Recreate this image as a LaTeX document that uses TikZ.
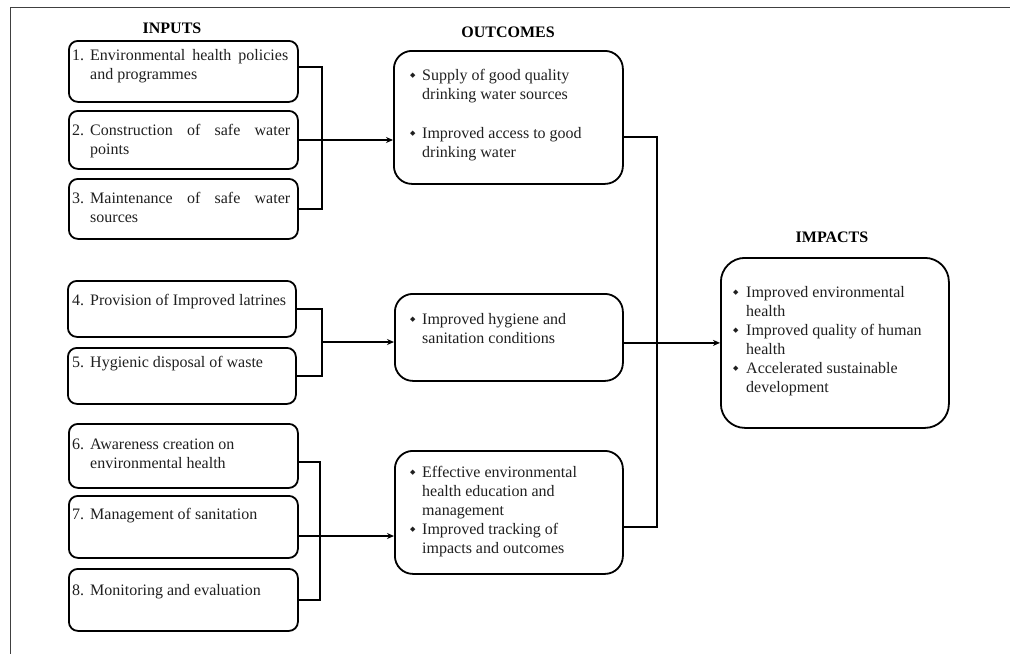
\documentclass[tikz,border=0pt]{standalone}
\usepackage{fontspec}
\setmainfont{Liberation Serif}
\newfontfamily\symf{DejaVu Sans}
\usetikzlibrary{arrows.meta}
\newcommand{\dmd}{\raisebox{2.5pt}{\symf\fontsize{7}{7}\selectfont ◆}}
\newcommand{\bul}{\makebox[12pt][l]{\dmd}}
\newcommand{\bulw}{\makebox[13pt][l]{\dmd}}
\newcommand{\numb}[1]{\makebox[18pt][l]{#1}}
\begin{document}
\begin{tikzpicture}[x=1pt,y=-1pt,
  ibox/.style={draw, line width=1.8pt, rounded corners=9pt, inner sep=0pt, anchor=north west},
  obox/.style={draw, line width=1.8pt, rounded corners=18pt, inner sep=0pt, anchor=north west},
  txt/.style={anchor=base west, inner sep=0pt, text=black!88, font=\fontsize{16}{19}\selectfont},
  head/.style={anchor=base, inner sep=0pt, font=\fontsize{16}{19}\selectfont\bfseries},
  conn/.style={draw, line width=1.8pt},
  arr/.style={conn, -{Stealth[length=7pt,width=6pt]}}]
\useasboundingbox (0,0) rectangle (1010,654);
% frame
\draw[line width=1pt, black!75] (1010,7) -- (10,7) -- (10,654);
% headings
\node[head] (hin) at (172,33) {INPUTS};
\node[head] (hout) at (508,37) {OUTCOMES};
\node[head] (himp) at (832,242) {IMPACTS};
% input boxes
\node[ibox, minimum width=229pt, minimum height=61pt] (i1) at (68,40) {};
\node[ibox, minimum width=229pt, minimum height=58pt] (i2) at (68,110) {};
\node[ibox, minimum width=229pt, minimum height=60pt] (i3) at (68,178) {};
\node[ibox, minimum width=228pt, minimum height=56pt] (i4) at (67,280) {};
\node[ibox, minimum width=228pt, minimum height=56pt] (i5) at (67,347) {};
\node[ibox, minimum width=229pt, minimum height=64pt] (i6) at (68,423) {};
\node[ibox, minimum width=229pt, minimum height=62pt] (i7) at (68,495) {};
\node[ibox, minimum width=229pt, minimum height=62pt] (i8) at (68,568) {};
% outcome / impact boxes
\node[obox, minimum width=229pt, minimum height=133pt] (o1) at (393,50) {};
\node[obox, minimum width=228pt, minimum height=87pt] (o2) at (394,293) {};
\node[obox, minimum width=228pt, minimum height=123pt] (o3) at (394,450) {};
\node[obox, rounded corners=24pt, minimum width=228pt, minimum height=170pt] (m) at (720,257) {};
% input texts
\node[txt] (t1) at (72,60) {\begin{tabular}[t]{@{}l@{}}\numb{1.}\makebox[198pt][s]{Environmental health policies}\\ \numb{}and programmes\end{tabular}};
\node[txt] (t2) at (72,135) {\begin{tabular}[t]{@{}l@{}}\numb{2.}\makebox[200pt][s]{Construction of safe water}\\ \numb{}points\end{tabular}};
\node[txt] (t3) at (72,203) {\begin{tabular}[t]{@{}l@{}}\numb{3.}\makebox[200pt][s]{Maintenance of safe water}\\ \numb{}sources\end{tabular}};
\node[txt] (t4) at (72,305) {\numb{4.}Provision of Improved latrines};
\node[txt] (t5) at (72,367) {\numb{5.}Hygienic disposal of waste};
\node[txt] (t6) at (72,449) {\begin{tabular}[t]{@{}l@{}}\numb{6.}Awareness creation on\\ \numb{}environmental health\end{tabular}};
\node[txt] (t7) at (72,519) {\numb{7.}Management of sanitation};
\node[txt] (t8) at (72,595) {\numb{8.}Monitoring and evaluation};
% outcome texts
\node[txt] (u1) at (410,80) {\begin{tabular}[t]{@{}l@{}l@{}}\bul&Supply of good quality\\ &drinking water sources\\[20pt] \bul&Improved access to good\\ &drinking water\end{tabular}};
\node[txt] (u2) at (410,324) {\begin{tabular}[t]{@{}l@{}l@{}}\bul&Improved hygiene and\\ &sanitation conditions\end{tabular}};
\node[txt] (u3) at (410,477) {\begin{tabular}[t]{@{}l@{}l@{}}\bul&Effective environmental\\ &health education and\\ &management\\ \bul&Improved tracking of\\ &impacts and outcomes\end{tabular}};
% impact text
\node[txt] (v1) at (733,297) {\begin{tabular}[t]{@{}l@{}l@{}}\bulw&Improved environmental\\ &health\\ \bulw&Improved quality of human\\ &health\\ \bulw&Accelerated sustainable\\ &development\end{tabular}};
% junction coordinates
\coordinate (j1) at (322,140);
\coordinate (j2) at (322,342);
\coordinate (j3) at (320,536);
\coordinate (k1) at (657,137);
\coordinate (k3) at (657,527);
% group 1
\draw[conn] ([yshift=4.5pt]i1.east) -| (j1) |- (i3.east);
\draw[arr] (i2.east |- j1) -- (o1.west |- j1);
% group 2
\draw[conn] (i4.east) -| (j2) |- (i5.east);
\draw[arr] (j2) -- (o2.west |- j2);
% group 3
\draw[conn] ([yshift=-6pt]i6.east) -| (j3) |- (i8.east);
\draw[arr] (i7.east |- j3) -- (o3.west |- j3);
% to impacts
\draw[conn] (o1.east |- k1) -- (k1) -- (k3) -- (o3.east |- k3);
\draw[arr] (o2.east |- m.west) -- (m.west);
\end{tikzpicture}
\end{document}
